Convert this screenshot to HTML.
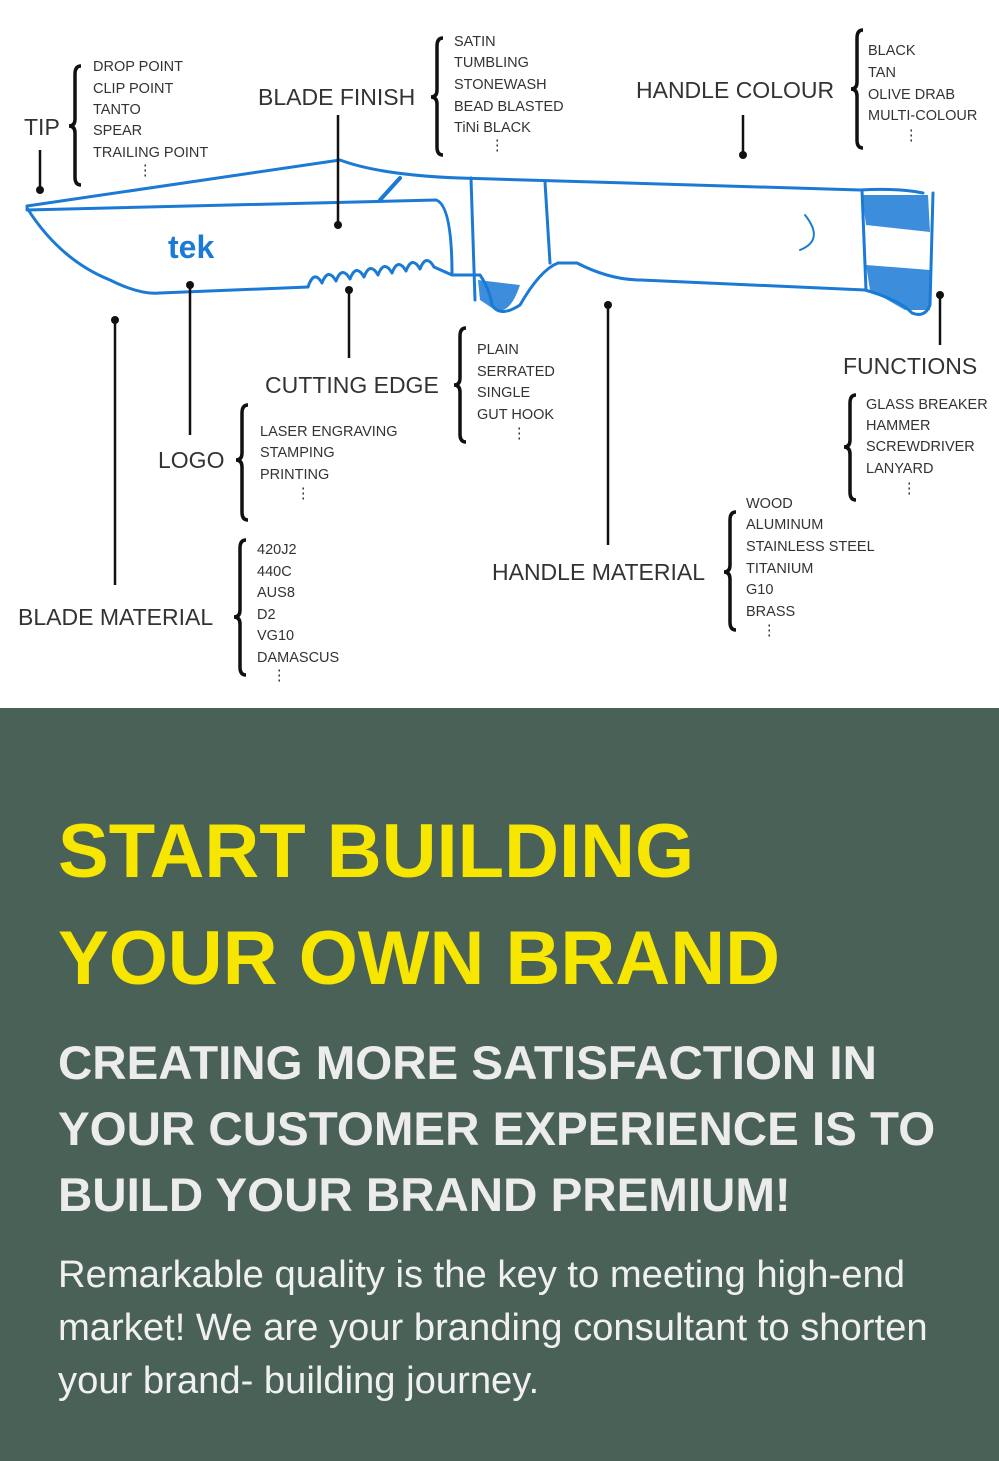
<!DOCTYPE html>
<html><head><meta charset="utf-8"><style>
html,body{margin:0;padding:0;width:999px;height:1461px;overflow:hidden;background:#fff}
svg{position:absolute;left:0;top:0}
.g{position:absolute;left:0;top:708px;width:999px;height:753px;background:#4a6158;font-family:"Liberation Sans",sans-serif}
.h{position:absolute;left:58px;color:#f6e600;font-weight:bold;font-size:76px;line-height:1}
.s{position:absolute;left:58px;color:#ececec;font-weight:bold;font-size:47.5px;line-height:1}
.b{position:absolute;left:58px;color:#f0f0f0;font-size:38.2px;line-height:1}
</style></head><body>
<svg width="999" height="708" viewBox="0 0 999 708" font-family="Liberation Sans, sans-serif">
<g fill="none" stroke="#1a7ad6" stroke-width="3" stroke-linejoin="round" stroke-linecap="round">
<path d="M27 206 L340 160 Q380 175 460 178 L860 190 Q900 188 923 193"/>
<path d="M27 210 L436 200 Q452 205 452 275"/>
<path d="M27 208 Q60 260 110 280 Q140 295 160 293 L308 287"/>
<path d="M308 287 q6 -18 14 -4 q6 -16 14 -2 q6 -16 14 -2 q6 -16 14 -2 q6 -16 14 -2 q6 -16 14 -2 q6 -16 14 -2 q6 -16 14 -2 q6 -16 14 -2 L452 275 L480 275 Q490 290 492 305 Q500 318 520 305 Q540 270 558 263 L577 263 Q610 280 641 280 L865 290 Q900 300 912 313 Q925 318 930 305 L933 193"/>
<path d="M471 178 L475 300"/><path d="M545 182 L550 263"/><path d="M862 190 L866 290"/>
<path d="M400 178 L380 200" stroke-width="4"/>
<path d="M805 215 Q825 240 800 250" stroke-width="2"/>
</g>
<g fill="#1a7ad6"><path d="M862 195 L928 195 L930 232 L866 225 Z" opacity=".85"/><path d="M866 265 L930 270 L930 310 L905 310 L870 290Z" opacity=".85"/><path d="M478 280 L520 285 Q510 315 495 310 L480 300Z" opacity=".85"/></g>
<text x="168" y="258" fill="#1a7ad6" font-size="32" font-weight="bold">tek</text>
<g stroke="#111" stroke-width="2.5" fill="none">
<line x1="40" y1="150" x2="40" y2="190"/><line x1="338" y1="115" x2="338" y2="225"/><line x1="743" y1="115" x2="743" y2="155"/>
<line x1="115" y1="320" x2="115" y2="585"/><line x1="190" y1="285" x2="190" y2="435"/><line x1="349" y1="290" x2="349" y2="358"/><line x1="608" y1="305" x2="608" y2="545"/><line x1="940" y1="295" x2="940" y2="345"/>
</g>
<g fill="#111"><circle cx="40" cy="190" r="4"/><circle cx="338" cy="225" r="4"/><circle cx="743" cy="155" r="4"/><circle cx="115" cy="320" r="4"/><circle cx="190" cy="285" r="4"/><circle cx="349" cy="290" r="4"/><circle cx="608" cy="305" r="4"/><circle cx="940" cy="295" r="4"/></g>
<g stroke="#111" stroke-width="3.5" fill="none">
<path d="M81 66 Q75 66 75 74 L75 119 Q75 126 69 126 Q75 126 75 133 L75 177 Q75 185 81 185"/>
<path d="M443 38 Q437 38 437 46 L437 90 Q437 97 431 97 Q437 97 437 104 L437 147 Q437 155 443 155"/>
<path d="M863 30 Q857 30 857 38 L857 82 Q857 89 851 89 Q857 89 857 96 L857 140 Q857 148 863 148"/>
<path d="M466 328 Q460 328 460 336 L460 378 Q460 385 454 385 Q460 385 460 392 L460 434 Q460 442 466 442"/>
<path d="M856 395 Q850 395 850 403 L850 440 Q850 447 844 447 Q850 447 850 454 L850 492 Q850 500 856 500"/>
<path d="M248 405 Q242 405 242 413 L242 453 Q242 460 236 460 Q242 460 242 467 L242 512 Q242 520 248 520"/>
<path d="M736 512 Q730 512 730 520 L730 565 Q730 572 724 572 Q730 572 730 579 L730 622 Q730 630 736 630"/>
<path d="M246 540 Q240 540 240 548 L240 610 Q240 617 234 617 Q240 617 240 624 L240 667 Q240 675 246 675"/>
</g>
<g fill="#333" font-size="23">
<text x="24" y="135">TIP</text><text x="258" y="105">BLADE FINISH</text><text x="636" y="98">HANDLE COLOUR</text>
<text x="265" y="393">CUTTING EDGE</text><text x="843" y="374">FUNCTIONS</text><text x="158" y="468">LOGO</text>
<text x="492" y="580">HANDLE MATERIAL</text><text x="18" y="625">BLADE MATERIAL</text>
</g>
<g fill="#333" font-size="14.5">
<text x="93" y="71">DROP POINT</text><text x="93" y="93">CLIP POINT</text><text x="93" y="114">TANTO</text><text x="93" y="135">SPEAR</text><text x="93" y="157">TRAILING POINT</text><text x="138" y="175">⋮</text>
<text x="454" y="46">SATIN</text><text x="454" y="67">TUMBLING</text><text x="454" y="89">STONEWASH</text><text x="454" y="111">BEAD BLASTED</text><text x="454" y="132">TiNi BLACK</text><text x="490" y="150">⋮</text>
<text x="868" y="55">BLACK</text><text x="868" y="77">TAN</text><text x="868" y="99">OLIVE DRAB</text><text x="868" y="120">MULTI-COLOUR</text><text x="904" y="140">⋮</text>
<text x="477" y="354">PLAIN</text><text x="477" y="376">SERRATED</text><text x="477" y="397">SINGLE</text><text x="477" y="419">GUT HOOK</text><text x="512" y="438">⋮</text>
<text x="866" y="409">GLASS BREAKER</text><text x="866" y="430">HAMMER</text><text x="866" y="451">SCREWDRIVER</text><text x="866" y="473">LANYARD</text><text x="902" y="493">⋮</text>
<text x="260" y="436">LASER ENGRAVING</text><text x="260" y="457">STAMPING</text><text x="260" y="479">PRINTING</text><text x="296" y="498">⋮</text>
<text x="746" y="508">WOOD</text><text x="746" y="529">ALUMINUM</text><text x="746" y="551">STAINLESS STEEL</text><text x="746" y="573">TITANIUM</text><text x="746" y="594">G10</text><text x="746" y="616">BRASS</text><text x="762" y="635">⋮</text>
<text x="257" y="554">420J2</text><text x="257" y="576">440C</text><text x="257" y="597">AUS8</text><text x="257" y="619">D2</text><text x="257" y="640">VG10</text><text x="257" y="662">DAMASCUS</text><text x="272" y="680">⋮</text>
</g>
</svg>
<div class="g">
<div class="h" style="top:106px">START BUILDING</div>
<div class="h" style="top:213px">YOUR OWN BRAND</div>
<div class="s" style="top:332px">CREATING MORE SATISFACTION IN</div>
<div class="s" style="top:398px">YOUR CUSTOMER EXPERIENCE IS TO</div>
<div class="s" style="top:464px">BUILD YOUR BRAND PREMIUM!</div>
<div class="b" style="top:548px">Remarkable quality is the key to meeting high-end</div>
<div class="b" style="top:601px">market! We are your branding consultant to shorten</div>
<div class="b" style="top:654px">your brand- building journey.</div>
</div>
</body></html>
